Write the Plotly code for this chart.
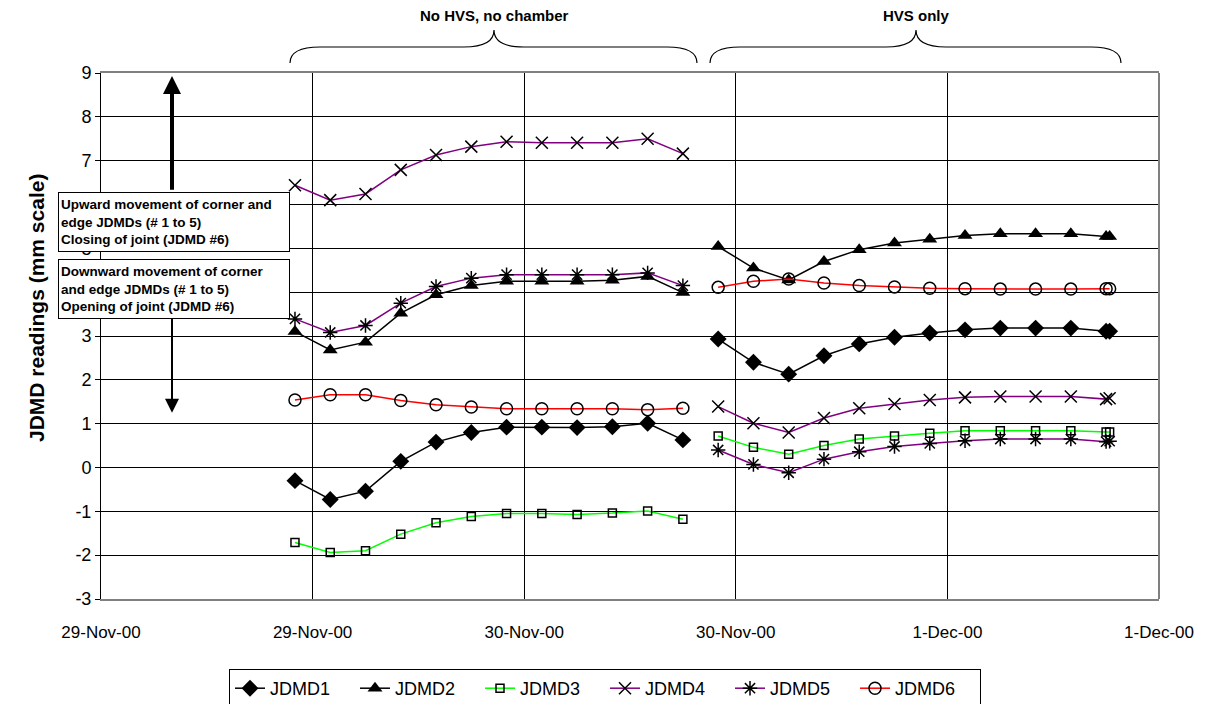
import plotly.graph_objects as go

# ---------------- data ----------------
times = [
    "2000-11-29 11:00", "2000-11-29 13:00", "2000-11-29 15:00", "2000-11-29 17:00",
    "2000-11-29 19:00", "2000-11-29 21:00", "2000-11-29 23:00", "2000-11-30 01:00",
    "2000-11-30 03:00", "2000-11-30 05:00", "2000-11-30 07:00", "2000-11-30 09:00",
    "2000-11-30 10:00",  # gap between test phases
    "2000-11-30 11:00", "2000-11-30 13:00", "2000-11-30 15:00", "2000-11-30 17:00",
    "2000-11-30 19:00", "2000-11-30 21:00", "2000-11-30 23:00", "2000-12-01 01:00",
    "2000-12-01 03:00", "2000-12-01 05:00", "2000-12-01 07:00", "2000-12-01 09:00",
    "2000-12-01 09:12",
]

JDMD1 = [-0.30, -0.73, -0.54, 0.14, 0.58, 0.80, 0.92, 0.92, 0.91, 0.93, 1.01, 0.63, None,
         2.93, 2.40, 2.13, 2.55, 2.82, 2.97, 3.07, 3.14, 3.18, 3.18, 3.18, 3.11, 3.11]
JDMD2 = [3.10, 2.68, 2.86, 3.52, 3.94, 4.15, 4.25, 4.25, 4.25, 4.27, 4.36, 3.99, None,
         5.04, 4.55, 4.28, 4.70, 4.97, 5.12, 5.21, 5.29, 5.33, 5.33, 5.33, 5.27, 5.27]
JDMD3 = [-1.71, -1.94, -1.90, -1.52, -1.26, -1.12, -1.05, -1.05, -1.07, -1.04, -0.99, -1.18, None,
         0.72, 0.46, 0.30, 0.50, 0.65, 0.72, 0.78, 0.84, 0.84, 0.84, 0.84, 0.81, 0.81]
JDMD4 = [6.44, 6.10, 6.24, 6.79, 7.13, 7.32, 7.43, 7.41, 7.41, 7.41, 7.50, 7.16, None,
         1.39, 1.01, 0.80, 1.13, 1.35, 1.45, 1.54, 1.60, 1.62, 1.62, 1.62, 1.56, 1.58]
JDMD5 = [3.39, 3.08, 3.24, 3.75, 4.13, 4.32, 4.40, 4.40, 4.40, 4.40, 4.44, 4.15, None,
         0.40, 0.07, -0.12, 0.19, 0.36, 0.48, 0.55, 0.61, 0.65, 0.65, 0.65, 0.59, 0.60]
JDMD6 = [1.54, 1.66, 1.66, 1.53, 1.43, 1.38, 1.34, 1.34, 1.34, 1.34, 1.32, 1.35, None,
         4.11, 4.25, 4.30, 4.21, 4.15, 4.12, 4.09, 4.08, 4.07, 4.07, 4.07, 4.08, 4.08]

x_tick_vals = ["2000-11-29 00:00", "2000-11-29 12:00", "2000-11-30 00:00",
               "2000-11-30 12:00", "2000-12-01 00:00", "2000-12-01 12:00"]
x_tick_text = ["29-Nov-00", "29-Nov-00", "30-Nov-00", "30-Nov-00", "1-Dec-00", "1-Dec-00"]
y_tick_vals = [-3, -2, -1, 0, 1, 2, 3, 4, 5, 6, 7, 8, 9]
y_tick_text = ["-3", "-2", "-1", "0", "1", "2", "3", "4", "5", "6", "7", "8", "9"]

series_names = ["JDMD1", "JDMD2", "JDMD3", "JDMD4", "JDMD5", "JDMD6"]
series_values = [JDMD1, JDMD2, JDMD3, JDMD4, JDMD5, JDMD6]

# ---------------- styles ----------------
FONT = "Liberation Sans, Arial, sans-serif"
PURPLE = "#800080"
styles = {
    "JDMD1": dict(line="#000000", symbol="diamond", msize=13, mcolor="#000000", lw=0),
    "JDMD2": dict(line="#000000", symbol="triangle-up", msize=13, mcolor="#000000", lw=0),
    "JDMD3": dict(line="#00FF00", symbol="square-open", msize=8, mcolor="#000000", lw=1.5),
    "JDMD4": dict(line=PURPLE, symbol="x-thin-open", msize=12, mcolor="#000000", lw=1.5),
    "JDMD5": dict(line=PURPLE, symbol="asterisk-open", msize=12, mcolor="#000000", lw=1.5),
    "JDMD6": dict(line="#FF0000", symbol="circle-open", msize=12, mcolor="#000000", lw=1.5),
}

fig = go.Figure()
for name, vals in zip(series_names, series_values):
    s = styles[name]
    fig.add_trace(go.Scatter(
        x=times, y=vals, name=name, mode="lines+markers",
        line=dict(color=s["line"], width=1.5),
        marker=dict(symbol=s["symbol"], size=s["msize"], color=s["mcolor"],
                    line=dict(color="#000000", width=s["lw"])),
        connectgaps=False,
    ))

# target plot area in page pixels; the page adds an 8px body offset
OFF = 8
L, R, T, B = 101, 1159, 73, 599
W, H = 1212 - OFF, 704 - OFF
PX_PER_UNIT = (B - T) / 12.0


def px(xp):
    return (xp - L) / (R - L)


def py(yp):
    return (B - yp) / (B - T)


def brace(x0, x1, xc, y_end, y_flat, y_tip):
    r = 30
    pts = [
        f"M {px(x0)},{py(y_end)}",
        f"Q {px(x0)},{py(y_flat)} {px(x0 + r)},{py(y_flat)}",
        f"L {px(xc - r)},{py(y_flat)}",
        f"Q {px(xc)},{py(y_flat)} {px(xc)},{py(y_tip)}",
        f"Q {px(xc)},{py(y_flat)} {px(xc + r)},{py(y_flat)}",
        f"L {px(x1 - r)},{py(y_flat)}",
        f"Q {px(x1)},{py(y_flat)} {px(x1)},{py(y_end)}",
    ]
    return " ".join(pts)


shapes = [
    dict(type="path", xref="paper", yref="paper",
         path=brace(290, 697, 494, 63, 47, 30), line=dict(color="#000000", width=1.2)),
    dict(type="path", xref="paper", yref="paper",
         path=brace(710, 1121, 916, 63, 47, 30), line=dict(color="#000000", width=1.2)),
    dict(type="line", xref="paper", yref="paper", x0=1, x1=1, y0=0, y1=1,
         line=dict(color="#808080", width=2)),
]

up_tip, up_tail = 8.93, 6.3
dn_tip, dn_tail = 1.25, 3.5

annotations = [
    dict(text="<b>No HVS, no chamber</b>", xref="paper", yref="paper",
         x=px(494), y=py(16), xanchor="center", yanchor="middle", showarrow=False,
         font=dict(family=FONT, size=15, color="#000")),
    dict(text="<b>HVS only</b>", xref="paper", yref="paper",
         x=px(916), y=py(16), xanchor="center", yanchor="middle", showarrow=False,
         font=dict(family=FONT, size=15, color="#000")),
    # y-axis title
    dict(text="<b>JDMD readings (mm scale)</b>", xref="paper", yref="paper",
         x=px(36), y=py(308), xanchor="center", yanchor="middle", textangle=-90,
         showarrow=False, font=dict(family=FONT, size=21, color="#000")),
    # arrows
    dict(xref="paper", yref="y", x=px(172), y=up_tip, axref="pixel", ayref="pixel",
         ax=0, ay=(up_tip - up_tail) * PX_PER_UNIT, showarrow=True, arrowhead=2, arrowsize=0.9,
         arrowwidth=4, arrowcolor="#000000", text=""),
    dict(xref="paper", yref="y", x=px(172), y=dn_tip, axref="pixel", ayref="pixel",
         ax=0, ay=(dn_tip - dn_tail) * PX_PER_UNIT, showarrow=True, arrowhead=2, arrowsize=1.4,
         arrowwidth=2, arrowcolor="#000000", text=""),
    # text boxes
    dict(text="<b>Upward movement of corner and<br>edge JDMDs (# 1 to 5)<br>Closing of joint (JDMD #6)</b>",
         xref="paper", yref="paper", x=px(58), y=py(192), xanchor="left", yanchor="top",
         showarrow=False, align="left", bgcolor="#FFFFFF", bordercolor="#000000",
         borderwidth=1, borderpad=2, width=226, height=54,
         font=dict(family=FONT, size=13.5, color="#000")),
    dict(text="<b>Downward movement of corner<br>and edge JDMDs (# 1 to 5)<br>Opening of joint (JDMD #6)</b>",
         xref="paper", yref="paper", x=px(58), y=py(259), xanchor="left", yanchor="top",
         showarrow=False, align="left", bgcolor="#FFFFFF", bordercolor="#000000",
         borderwidth=1, borderpad=2, width=226, height=54,
         font=dict(family=FONT, size=13.5, color="#000")),
]

fig.update_layout(
    width=W, height=H,
    margin=dict(l=L - OFF, r=W - (R - OFF), t=T - OFF, b=H - (B - OFF), autoexpand=False),
    paper_bgcolor="#FFFFFF", plot_bgcolor="#FFFFFF",
    font=dict(family=FONT, color="#000000"),
    showlegend=True,
    legend=dict(orientation="h", x=px(605), xanchor="center", y=py(669), yanchor="top",
                bordercolor="#000000", borderwidth=1, font=dict(family=FONT, size=18),
                entrywidth=80, tracegroupgap=0),
    shapes=shapes,
    annotations=annotations,
)

fig.update_xaxes(
    type="date", range=["2000-11-29 00:00", "2000-12-01 12:00"],
    tickmode="array", tickvals=x_tick_vals, ticktext=x_tick_text,
    showgrid=True, gridcolor="#000000", gridwidth=1,
    showline=True, linecolor="#808080", linewidth=2, mirror=True,
    ticks="", ticklabelstandoff=17,
    tickfont=dict(family=FONT, size=17, color="#000"),
    zeroline=False,
)
fig.update_yaxes(
    range=[-3, 9], tickmode="array", tickvals=y_tick_vals, ticktext=y_tick_text,
    showgrid=True, gridcolor="#000000", gridwidth=1,
    showline=True, linecolor="#000000", linewidth=1,
    ticks="outside", ticklen=5, tickcolor="#000000",
    tickfont=dict(family=FONT, size=18, color="#000"),
    zeroline=False,
    automargin=False,
)

fig.write_html("out.html")
